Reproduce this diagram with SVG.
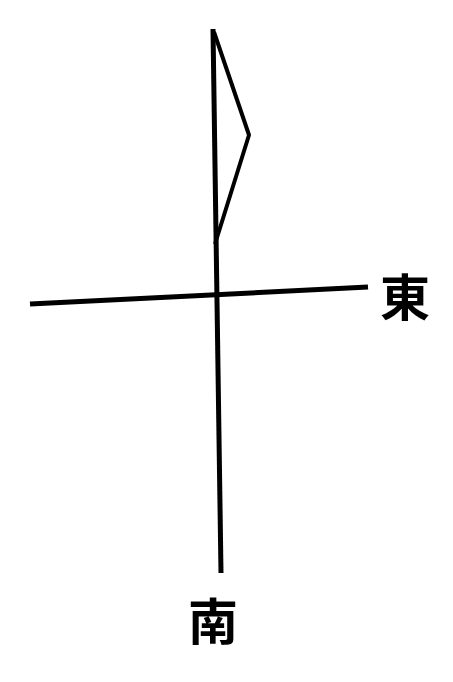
<svg xmlns="http://www.w3.org/2000/svg" width="453" height="682" viewBox="0 0 453 682">
<style>
.ln{stroke:#000;stroke-width:5;fill:none;stroke-linecap:butt;stroke-linejoin:miter}
.fl{stroke:#000;stroke-width:4;fill:none;stroke-linejoin:round}
.lb{font-family:"Noto Sans CJK TC","Noto Sans CJK JP",sans-serif;font-size:50px;fill:#000;font-weight:bold}
</style>
<rect width="453" height="682" fill="#fff"/>
<g id="connectors">
<line class="ln" x1="213" y1="29" x2="221" y2="573"/>
<line class="ln" x1="30" y1="304" x2="368" y2="287"/>
</g>
<g id="flag">
<polyline class="fl" points="214,32 249,135 215,244"/>
</g>
<g id="east">
<text class="lb" x="405" y="316" text-anchor="middle">東</text>
</g>
<g id="south">
<text class="lb" x="213" y="640" text-anchor="middle">南</text>
</g>
</svg>
